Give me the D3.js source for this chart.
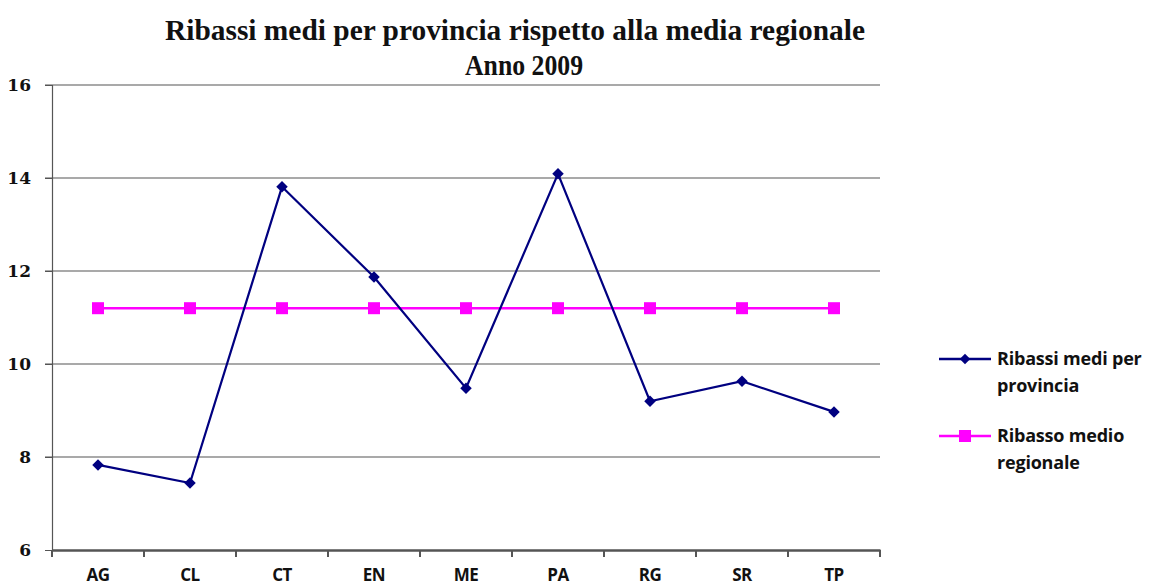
<!DOCTYPE html>
<html>
<head>
  <script src="https://d3js.org/d3.v7.min.js"></script>
  <style>
    body { margin: 0; background: #fff; }
  </style>
</head>
<body>
  <svg id="chart"></svg>
  <script>
    var provinces = ["AG", "CL", "CT", "EN", "ME", "PA", "RG", "SR", "TP"];
    var ribassiProvincia = [7.83, 7.44, 13.81, 11.87, 9.48, 14.09, 9.2, 9.63, 8.97];
    var ribassoRegionale = [11.2, 11.2, 11.2, 11.2, 11.2, 11.2, 11.2, 11.2, 11.2];
    var yTicks = [6, 8, 10, 12, 14, 16];

    var width = 1149, height = 586;
    var margin = { left: 52, right: 269, top: 85, bottom: 36 };

    var svg = d3.select("#chart")
                .attr("width", width)
                .attr("height", height);

    var x = d3.scaleBand()
              .domain(provinces)
              .range([margin.left, width - margin.right]);
    var y = d3.scaleLinear()
              .domain([6, 16])
              .range([height - margin.bottom, margin.top]);

    // title
    var title = svg.append("text")
                   .attr("text-anchor", "middle")
                   .attr("font-family", "Liberation Serif")
                   .attr("font-weight", "bold")
                   .attr("font-size", 29)
                   .attr("fill", "#111");
    title.append("tspan").attr("x", 515).attr("y", 40)
         .attr("textLength", 700).attr("lengthAdjust", "spacingAndGlyphs")
         .text("Ribassi medi per provincia rispetto alla media regionale");
    title.append("tspan").attr("x", 524).attr("y", 75)
         .attr("textLength", 118).attr("lengthAdjust", "spacingAndGlyphs")
         .text("Anno 2009");

    // gridlines
    svg.append("g")
       .selectAll("line")
       .data(yTicks.filter(function(d) { return d > 6; }))
       .join("line")
       .attr("x1", margin.left - 7)
       .attr("x2", width - margin.right)
       .attr("y1", function(d) { return y(d); })
       .attr("y2", function(d) { return y(d); })
       .attr("stroke", "#555")
       .attr("stroke-width", 1.2);

    // y axis
    var yAxis = svg.append("g")
       .attr("transform", "translate(" + margin.left + ",0)")
       .call(d3.axisLeft(y).tickValues(yTicks).tickSize(7).tickPadding(14));
    yAxis.select(".domain").attr("stroke", "#555").attr("stroke-width", 1.2);
    yAxis.selectAll(".tick line").attr("stroke", "#555");
    yAxis.selectAll("text")
         .attr("font-family", "DejaVu Serif")
         .attr("font-weight", "bold")
         .attr("font-size", 17)
         .attr("fill", "#111");

    // x axis
    var xAxis = svg.append("g")
       .attr("transform", "translate(0," + y(6) + ")")
       .call(d3.axisBottom(x).tickSize(0).tickPadding(19));
    xAxis.select(".domain").attr("stroke", "#555").attr("stroke-width", 2.5);
    xAxis.selectAll("text")
         .attr("font-family", "Open Sans")
         .attr("font-weight", "bold")
         .attr("font-size", 17)
         .attr("letter-spacing", -0.5)
         .attr("fill", "#111");
    svg.append("g")
       .selectAll("line")
       .data(provinces.concat(["end"]))
       .join("line")
       .attr("x1", function(d, i) { return margin.left + i * x.step(); })
       .attr("x2", function(d, i) { return margin.left + i * x.step(); })
       .attr("y1", y(6))
       .attr("y2", y(6) + 7)
       .attr("stroke", "#555")
       .attr("stroke-width", 2);

    var line = d3.line()
                 .x(function(d, i) { return x(provinces[i]) + x.bandwidth() / 2; })
                 .y(function(d) { return y(d); });

    // regional average
    svg.append("path")
       .datum(ribassoRegionale)
       .attr("d", line)
       .attr("fill", "none")
       .attr("stroke", "#ff00ff")
       .attr("stroke-width", 2.5);
    svg.append("g")
       .selectAll("rect")
       .data(ribassoRegionale)
       .join("rect")
       .attr("x", function(d, i) { return x(provinces[i]) + x.bandwidth() / 2 - 6; })
       .attr("y", function(d) { return y(d) - 6; })
       .attr("width", 12)
       .attr("height", 12)
       .attr("fill", "#ff00ff");

    // province line
    svg.append("path")
       .datum(ribassiProvincia)
       .attr("d", line)
       .attr("fill", "none")
       .attr("stroke", "#000080")
       .attr("stroke-width", 2.2);
    var diamond = d3.symbol().type(d3.symbolSquare).size(66);
    svg.append("g")
       .selectAll("path")
       .data(ribassiProvincia)
       .join("path")
       .attr("d", diamond)
       .attr("transform", function(d, i) { return "translate(" + (x(provinces[i]) + x.bandwidth() / 2) + "," + y(d) + ") rotate(45)"; })
       .attr("fill", "#000080");

    // legend
    var legendItems = [
      { lines: ["Ribassi medi per", "provincia"], color: "#000080", marker: "diamond", y: 359 },
      { lines: ["Ribasso medio", "regionale"], color: "#ff00ff", marker: "square", y: 436 }
    ];
    var legend = svg.append("g").selectAll("g").data(legendItems).join("g");
    legend.append("line")
          .attr("x1", 939).attr("x2", 991)
          .attr("y1", function(d) { return d.y; })
          .attr("y2", function(d) { return d.y; })
          .attr("stroke", function(d) { return d.color; })
          .attr("stroke-width", 2.5);
    legend.append("path")
          .attr("d", function(d) {
            return d3.symbol().type(d3.symbolSquare)
                     .size(d.marker === "diamond" ? 55 : 144)();
          })
          .attr("transform", function(d) {
            return "translate(965," + d.y + ")" + (d.marker === "diamond" ? " rotate(45)" : "");
          })
          .attr("fill", function(d) { return d.color; });
    legend.each(function(d) {
      var t = d3.select(this).append("text")
                .attr("font-family", "Open Sans")
                .attr("font-weight", "bold")
                .attr("font-size", 18)
                .attr("letter-spacing", -0.2)
                .attr("fill", "#111");
      d.lines.forEach(function(s, i) {
        t.append("tspan").attr("x", 997).attr("y", d.y + 6 + i * 27).text(s);
      });
    });
  </script>
</body>
</html>
